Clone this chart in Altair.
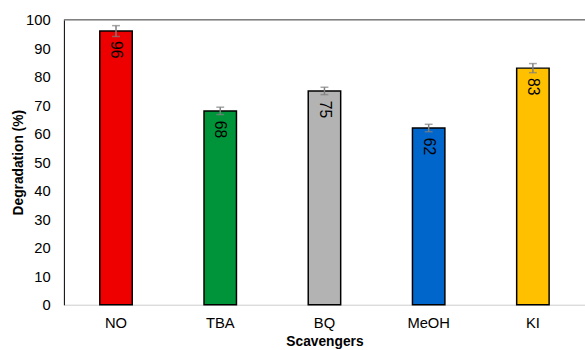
import altair as alt
import pandas as pd

scavengers = ["NO", "TBA", "BQ", "MeOH", "KI"]
degradation = [96, 68, 75, 62, 83]
error = [1.9, 1.3, 1.3, 1.3, 1.6]
colors = ["#EE0000", "#00943A", "#B3B3B3", "#0066CC", "#FFC000"]
y_ticks = [0, 10, 20, 30, 40, 50, 60, 70, 80, 90, 100]

df = pd.DataFrame({
    "Scavenger": scavengers,
    "Degradation": degradation,
    "lo": [v - e for v, e in zip(degradation, error)],
    "hi": [v + e for v, e in zip(degradation, error)],
    "color": colors,
})

FONT = "Liberation Sans"

x_axis = alt.Axis(
    title="Scavengers", labelAngle=0, ticks=False, domainColor="#D9D9D9",
    domainWidth=1, labelFontSize=15, labelColor="#000000", labelPadding=11,
    titleFontSize=14, titleFontWeight="bold", titleColor="#000000", titlePadding=4,
    labelFont=FONT, titleFont=FONT,
)
y_axis = alt.Axis(
    title="Degradation (%)", values=y_ticks, ticks=False,
    labelOverlap=False, grid=False, domainColor="#000000", domainWidth=1,
    labelFontSize=15, labelColor="#000000", labelPadding=14, titleFontSize=14,
    titleFontWeight="bold", titleColor="#000000", titlePadding=0,
    labelFont=FONT, titleFont=FONT,
)
x_scale = alt.Scale(paddingInner=0, paddingOuter=0)
y_scale = alt.Scale(domain=[0, 100], nice=False)


def xenc():
    return alt.X("Scavenger:N", sort=scavengers, scale=x_scale, axis=x_axis)


def yenc(field):
    return alt.Y(field, scale=y_scale, axis=y_axis)


base = alt.Chart(df)

bars = base.mark_bar(size=33, stroke="#000000", strokeWidth=1.5).encode(
    x=xenc(), y=yenc("Degradation:Q"), color=alt.Color("color:N", scale=None)
)

errs = base.mark_rule(color="#7F7F7F", strokeWidth=1.5).encode(
    x=xenc(), y=yenc("lo:Q"), y2="hi:Q",
)
caps_lo = base.mark_tick(color="#7F7F7F", thickness=1.5, size=8, orient="horizontal").encode(
    x=xenc(), y=yenc("lo:Q"),
)
caps_hi = base.mark_tick(color="#7F7F7F", thickness=1.5, size=8, orient="horizontal").encode(
    x=xenc(), y=yenc("hi:Q"),
)

labels = base.mark_text(
    angle=90, align="left", baseline="middle", dx=10, fontSize=16, font=FONT,
    color="#000000",
).encode(
    x=xenc(), y=yenc("Degradation:Q"), text="Degradation:Q",
)

top_border = alt.Chart(pd.DataFrame({"v": [100]})).mark_rule(
    color="#808080", strokeWidth=1.5
).encode(y=yenc("v:Q"))

chart = alt.layer(bars, errs, caps_lo, caps_hi, labels, top_border).properties(
    width=530, height=290,
    autosize=alt.AutoSizeParams(type="none"),
    padding={"left": 65, "top": 17, "right": 0, "bottom": 43},
).configure_view(stroke=None).configure(background="#FFFFFF")

chart.save("out.html", embed_options={"renderer": "svg", "actions": False})
